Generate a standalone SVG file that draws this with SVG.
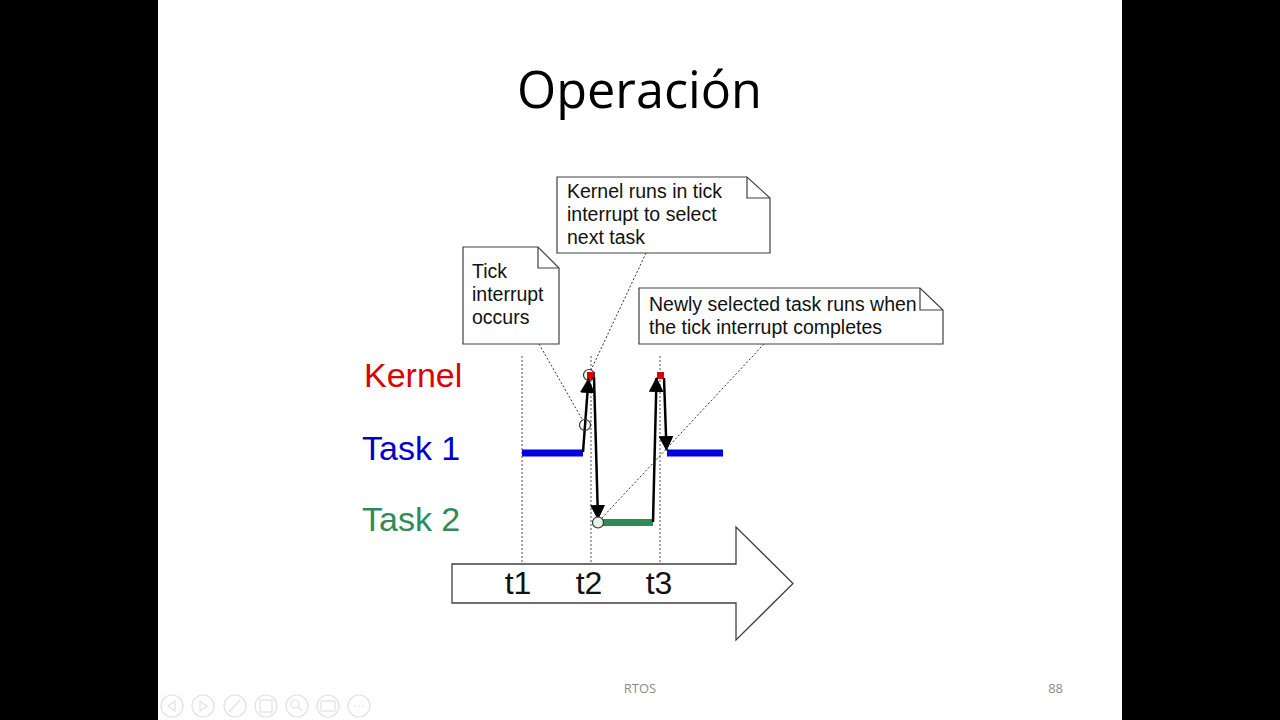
<svg xmlns="http://www.w3.org/2000/svg" width="1280" height="720" viewBox="0 0 1280 720">
<defs>
<style>
.note{fill:#fff;stroke:#404040;stroke-width:1.2}
.fold{fill:none;stroke:#404040;stroke-width:1.2}
.nt{font-family:"Liberation Sans",Arial,sans-serif;font-size:19.5px;fill:#111}
.lbl{font-family:"Liberation Sans",Arial,sans-serif;font-size:34px}
.tl{font-family:"Liberation Sans",Arial,sans-serif;font-size:32px;fill:#111;text-anchor:middle}
.grid{stroke:#8a8a8a;stroke-width:1.5;stroke-dasharray:2 2;fill:none}
.ptr{stroke:#333;stroke-width:1;stroke-dasharray:2 2;fill:none}
.arr{stroke:#000;stroke-width:2.5;fill:none}
.tb{fill:none;stroke:#e2e2e2;stroke-width:1.2}
</style>
<marker id="ah" viewBox="0 0 15 15" refX="14" refY="7.5" markerWidth="15" markerHeight="15" markerUnits="userSpaceOnUse" orient="auto">
<path d="M0,0 L15,7.5 L0,15 Z" fill="#000"/>
</marker>
</defs>
<rect x="0" y="0" width="1280" height="720" fill="#000"/>
<rect x="158" y="0" width="964" height="720" fill="#fff"/>
<text x="639.5" y="108" font-family="'Open Sans',sans-serif" font-size="52" fill="#000" text-anchor="middle" textLength="245" lengthAdjust="spacingAndGlyphs">Operación</text>

<g id="grid">
<line class="grid" x1="522" y1="356" x2="522" y2="564"/>
<line class="grid" x1="591" y1="356" x2="591" y2="564"/>
<line class="grid" x1="660" y1="356" x2="660" y2="564"/>
</g>

<g id="labels">
<text class="lbl" x="364" y="387" fill="#dd0000">Kernel</text>
<text class="lbl" x="362" y="460" fill="#0000cc">Task 1</text>
<text class="lbl" x="362" y="531" fill="#2e8b57">Task 2</text>
</g>

<g id="bars">
<rect x="522" y="449.5" width="61" height="7" fill="#0000dd"/>
<rect x="667" y="449.5" width="56" height="7" fill="#0000dd"/>
<rect x="601" y="519" width="52" height="7" fill="#2e8b57"/>
<rect x="587" y="372" width="8" height="7.5" fill="#dd0000"/>
<rect x="657" y="372" width="7" height="7" fill="#dd0000"/>
</g>

<g id="connectors">
<path class="arr" d="M583,452 L588.5,379" marker-end="url(#ah)"/>
<path class="arr" d="M594,377 L598,519" marker-end="url(#ah)"/>
<path class="arr" d="M653,522 L656.5,378" marker-end="url(#ah)"/>
<path class="arr" d="M664,378 L666.5,450" marker-end="url(#ah)"/>
<line class="ptr" x1="539" y1="344" x2="582" y2="419"/>
<line class="ptr" x1="646" y1="253" x2="591" y2="370"/>
<line class="ptr" x1="764" y1="344" x2="601" y2="519"/>
<circle cx="585" cy="425" r="5.5" fill="none" stroke="#333" stroke-width="1.2"/>
<circle cx="589" cy="375" r="5.5" fill="none" stroke="#333" stroke-width="1.2"/>
<circle cx="598" cy="522.5" r="5.5" fill="#e8f2ec" stroke="#333" stroke-width="1.2"/>
</g>

<g id="note-tick">
<path class="note" d="M463,247 L538,247 L559,268 L559,344 L463,344 Z"/>
<path class="fold" d="M538,247 L538,268 L559,268"/>
<text class="nt" x="472" y="278">Tick</text>
<text class="nt" x="472" y="301">interrupt</text>
<text class="nt" x="472" y="324">occurs</text>
</g>

<g id="note-kernel">
<path class="note" d="M557,177 L747,177 L770,198 L770,253 L557,253 Z"/>
<path class="fold" d="M747,177 L747,198 L770,198"/>
<text class="nt" x="567" y="198">Kernel runs in tick</text>
<text class="nt" x="567" y="221">interrupt to select</text>
<text class="nt" x="567" y="244">next task</text>
</g>

<g id="note-newly">
<path class="note" d="M639,288 L920,288 L943,310 L943,344 L639,344 Z"/>
<path class="fold" d="M920,288 L920,310 L943,310"/>
<text class="nt" x="649" y="311">Newly selected task runs when</text>
<text class="nt" x="649" y="334">the tick interrupt completes</text>
</g>

<g id="time-axis">
<path d="M452,564 L736,564 L736,527 L793,583.5 L736,640 L736,603 L452,603 Z" fill="#fff" stroke="#404040" stroke-width="1.3"/>
<text class="tl" x="518" y="594">t1</text>
<text class="tl" x="589" y="594">t2</text>
<text class="tl" x="659" y="594">t3</text>
</g>

<g id="footer">
<text x="640" y="693" font-family="'Open Sans',sans-serif" font-size="13" fill="#8c8c8c" text-anchor="middle">RTOS</text>
<text x="1063" y="693" font-family="'Open Sans',sans-serif" font-size="13" fill="#8c8c8c" text-anchor="end">88</text>
</g>

<g id="toolbar">
<circle class="tb" cx="172" cy="706" r="11"/>
<path class="tb" d="M175,701 L168,706 L175,711 Z"/>
<circle class="tb" cx="203" cy="706" r="11"/>
<path class="tb" d="M200,701 L207,706 L200,711 Z"/>
<circle class="tb" cx="235" cy="706" r="11"/>
<path class="tb" d="M229,712 L240,700"/>
<circle class="tb" cx="266" cy="706" r="11"/>
<rect class="tb" x="260" y="700" width="12" height="12"/>
<circle class="tb" cx="297" cy="706" r="11"/>
<circle class="tb" cx="295" cy="704" r="4"/>
<path class="tb" d="M298,707 L302,711"/>
<circle class="tb" cx="328" cy="706" r="11"/>
<rect class="tb" x="321" y="701" width="14" height="10"/>
<circle class="tb" cx="359" cy="706" r="11"/>
<path class="tb" d="M354,706 L364,706" stroke-dasharray="2 2"/>
</g>
</svg>
